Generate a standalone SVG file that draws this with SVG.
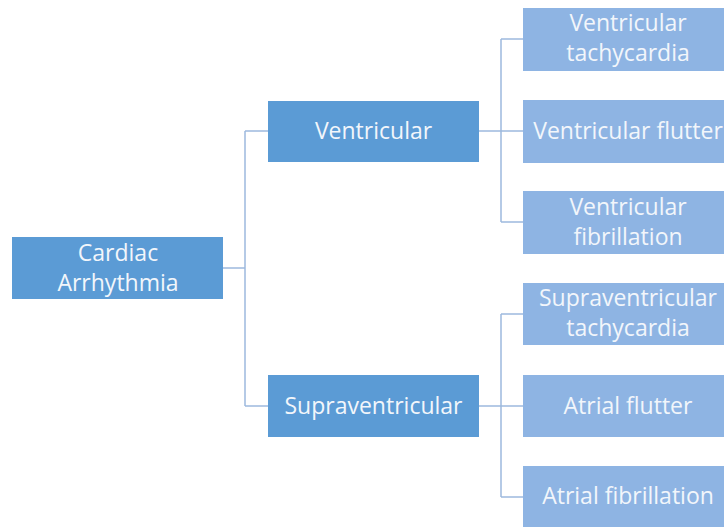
<svg xmlns="http://www.w3.org/2000/svg" width="724" height="527" viewBox="0 0 724 527">
<style>
.d{fill:#5B9BD5}
.l{fill:#8EB4E3}
text{font-family:"Open Sans","Liberation Sans",sans-serif;font-size:23px;fill:#F2F6FB;text-anchor:middle}
.c{fill:none;stroke:#9DB9DE;stroke-width:1.5}
</style>
<rect width="724" height="527" fill="#fff"/>
<g id="connectors" class="c">
<path d="M223 268H245M245 131V406M245 131H268M245 406H268"/>
<path d="M479 131H523M501 39V222M501 39H523M501 222H523"/>
<path d="M479 406H523M501 314V497M501 314H523M501 497H523"/>
</g>
<g id="root"><rect class="d" x="12" y="237" width="211" height="62"/><text x="118" y="261">Cardiac</text><text x="118" y="291">Arrhythmia</text></g>
<g id="ventricular"><rect class="d" x="268" y="101" width="211" height="61"/><text x="373.5" y="139">Ventricular</text></g>
<g id="supraventricular"><rect class="d" x="268" y="375" width="211" height="62"/><text x="373.5" y="414">Supraventricular</text></g>
<g id="vt"><rect class="l" x="523" y="8" width="211" height="63"/><text x="628" y="31">Ventricular</text><text x="628" y="61">tachycardia</text></g>
<g id="vfl"><rect class="l" x="523" y="100" width="211" height="63"/><text x="628" y="139">Ventricular flutter</text></g>
<g id="vfib"><rect class="l" x="523" y="191" width="211" height="63"/><text x="628" y="215">Ventricular</text><text x="628" y="245">fibrillation</text></g>
<g id="svt"><rect class="l" x="523" y="283" width="211" height="62"/><text x="628" y="306">Supraventricular</text><text x="628" y="336">tachycardia</text></g>
<g id="afl"><rect class="l" x="523" y="375" width="211" height="62"/><text x="628" y="414">Atrial flutter</text></g>
<g id="afib"><rect class="l" x="523" y="466" width="211" height="63"/><text x="628" y="504">Atrial fibrillation</text></g>
</svg>
